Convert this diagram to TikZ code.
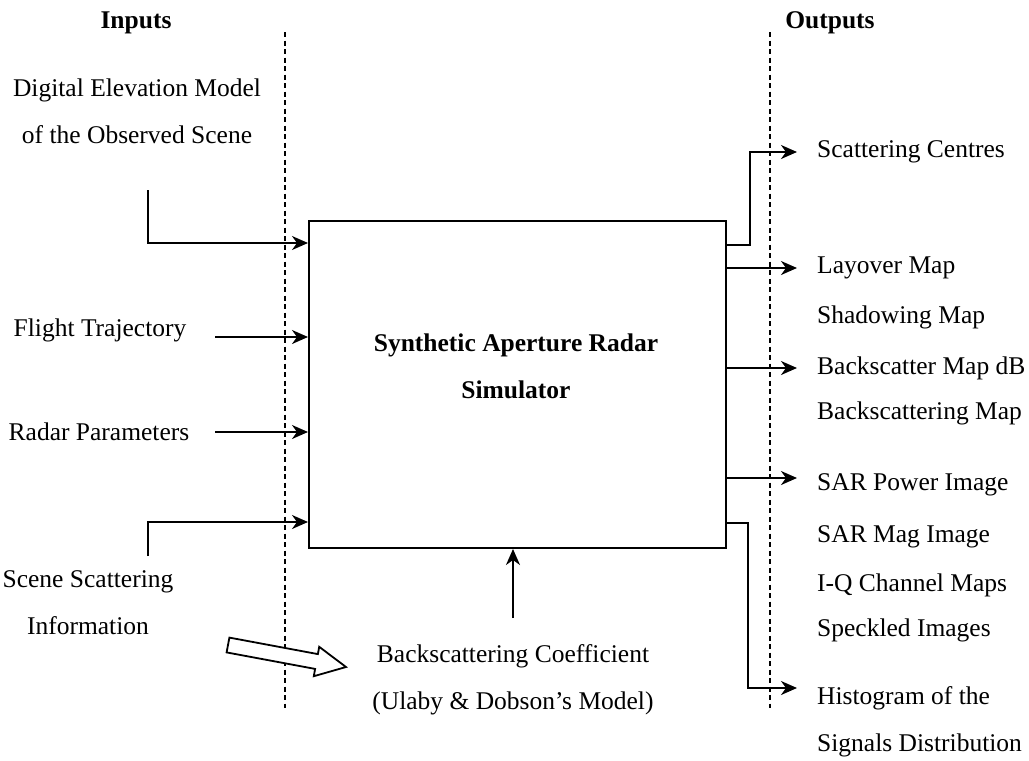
\documentclass[tikz,border=0pt]{standalone}
\usepackage{fontspec}
\setmainfont{Liberation Serif}
\usetikzlibrary{arrows.meta}
\begin{document}
\begin{tikzpicture}[x=1pt,y=-1pt,
  txt/.style={font=\fontsize{25.5}{47}\selectfont, inner sep=0pt, align=center},
  outtxt/.style={font=\fontsize{25.5}{30}\selectfont, inner sep=0pt, anchor=west},
  hdr/.style={font=\fontsize{25.5}{30}\selectfont\bfseries, inner sep=0pt},
  titletxt/.style={font=\fontsize{25.5}{47}\selectfont\bfseries, inner sep=0pt, align=center},
  conn/.style={line width=1.8pt, -{Stealth[length=16pt,width=14pt,inset=5pt]}},
  divider/.style={line width=1.3pt, dash pattern=on 5pt off 3.5pt},
  simbox/.style={draw, line width=2pt, minimum width=417pt, minimum height=327pt, inner sep=0pt},
  hollow/.style={draw, line width=1.8pt, fill=white, line join=miter}]
\useasboundingbox (0,0) rectangle (1029,761);

% headers
\node[hdr] (inputs) at (136,23) {Inputs};
\node[hdr] (outputs) at (830,23) {Outputs};

% dividers
\coordinate (ltop) at (285,32);
\coordinate (lbot) at (285,708);
\coordinate (rtop) at (770,32);
\coordinate (rbot) at (770,708);
\draw[divider] (ltop) -- (lbot);
\draw[divider] (rtop) -- (rbot);

% main box
\node[simbox] (sim) at (517.5,384.5) {};
\node[titletxt] (title) at (516,366) {Synthetic Aperture Radar\\Simulator};

% inputs
\node[txt] (dem) at (137,111) {Digital Elevation Model\\of the Observed Scene};
\node[txt] (flight) at (100,330) {Flight Trajectory};
\node[txt] (radar) at (99,432) {Radar Parameters};
\node[txt] (scene) at (88,603) {Scene Scattering\\Information};
\node[txt] (coef) at (513,680) {Backscattering Coefficient\\(Ulaby \& Dobson’s Model)};

\coordinate (demS) at (148,190);
\coordinate (flightS) at (215,337);
\coordinate (radarS) at (215,432);
\coordinate (sceneS) at (148,556);
\coordinate (coefS) at (513,618);

\draw[conn] (demS) |- (sim.west |- 0,243);
\draw[conn] (flightS) -- (sim.west |- flightS);
\draw[conn] (radarS) -- (sim.west |- radarS);
\draw[conn] (sceneS) |- (sim.west |- 0,522);
\draw[conn] (coefS) -- (sim.south -| coefS);

% hollow arrow
\draw[hollow] (226.6,652.4) -- (229.4,637.6) -- (317.9,654.1) -- (319.2,646.8)
  -- (346,667) -- (313.8,676.2) -- (315.1,668.9) -- cycle;

% outputs
\node[outtxt] (scat) at (817,152) {Scattering Centres};
\node[outtxt] (lay) at (817,268) {Layover Map};
\node[outtxt] (shad) at (817,317) {Shadowing Map};
\node[outtxt] (bdb) at (817,368) {Backscatter Map dB};
\node[outtxt] (bmap) at (817,413) {Backscattering Map};
\node[outtxt] (pow) at (817,485) {SAR Power Image};
\node[outtxt] (mag) at (817,537) {SAR Mag Image};
\node[outtxt] (iq) at (817,585) {I-Q Channel Maps};
\node[outtxt] (speck) at (817,630) {Speckled Images};
\node[outtxt] (hist) at (817,698) {Histogram of the};
\node[outtxt] (sig) at (817,745) {Signals Distribution};

\coordinate (scatT) at (797,152);
\coordinate (layT) at (797,268);
\coordinate (bdbT) at (797,368);
\coordinate (powT) at (797,478);
\coordinate (histT) at (797,688);

\draw[conn] (sim.east |- 0,245) -- (750,245) |- (scatT);
\draw[conn] (sim.east |- layT) -- (layT);
\draw[conn] (sim.east |- bdbT) -- (bdbT);
\draw[conn] (sim.east |- powT) -- (powT);
\draw[conn] (sim.east |- 0,523) -- (748,523) |- (histT);
\end{tikzpicture}
\end{document}
